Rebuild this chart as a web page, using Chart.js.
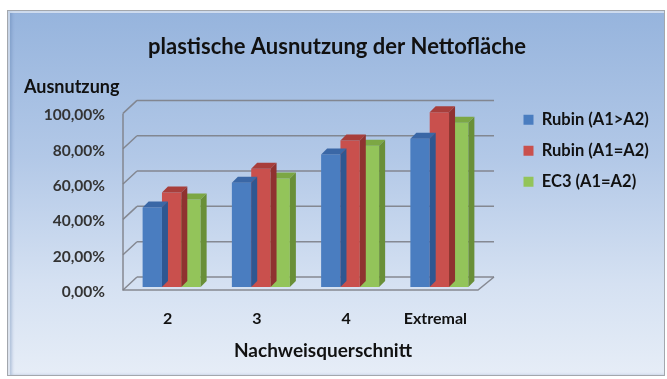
<!DOCTYPE html>
<html>
<head>
<meta charset="utf-8">
<script src="https://cdn.jsdelivr.net/npm/chart.js@4/dist/chart.umd.min.js"></script>
<style>
  html, body { margin: 0; padding: 0; background: #fff; }
  #frame {
    position: absolute; left: 7px; top: 10px; width: 656px; height: 364px;
    border: 1.5px solid #a3a7ad;
    background: linear-gradient(to bottom, #96b4dd 0%, #b2c8e7 40%, #d5e1f2 75%, #e6edf7 100%);
    box-shadow: inset 2px 2px 0 rgba(255,255,255,0.55), inset 4px 0 3px rgba(90,120,170,0.35);
  }
  #wrap { position: absolute; left: 0; top: 0; width: 667px; height: 379px; }
</style>
</head>
<body>
<div id="frame"></div>
<div id="wrap"><canvas id="chart" width="667" height="379"></canvas></div>
<script>
const categories = ['2', '3', '4', 'Extremal'];
const rubinA1gtA2 = [45, 59, 75, 84];
const rubinA1eqA2 = [53.5, 67, 83, 99];
const ec3A1eqA2 = [49.5, 61.5, 80, 93];
const seriesNames = ['Rubin (A1>A2)', 'Rubin (A1=A2)', 'EC3 (A1=A2)'];
const yTicks = [0, 20, 40, 60, 80, 100];

const FONT = 'Lato, "Open Sans", sans-serif';

// front / top / side shades for each series
const shades = [
  { front: '#4a7dc0', top: '#3a67a6', side: '#2f5791' },
  { front: '#c9504d', top: '#a83e3b', side: '#8f3230' },
  { front: '#93c45a', top: '#7ca744', side: '#698f38' }
];

const DEPTH = 6;                 // bar depth
const WALL = { dx: 14, dy: 11 }; // back wall shift
const SHIFT = -4;                // bars sit a bit right of the category centre in the original

const fmtPct = v => v.toFixed(2).replace('.', ',') + '%';

// back wall, side wall and floor behind the bars
const wallPlugin = {
  id: 'wall',
  beforeDatasetsDraw(chart) {
    const { ctx, chartArea: a, scales: { y } } = chart;
    const left = a.left + SHIFT, right = a.right + SHIFT;
    const y0 = y.getPixelForValue(0);
    ctx.save();
    ctx.strokeStyle = 'rgba(125,128,135,0.9)';
    ctx.lineWidth = 1.5;
    yTicks.forEach(v => {
      const yb = y.getPixelForValue(v) - WALL.dy + 1;
      ctx.beginPath();
      ctx.moveTo(left + WALL.dx, yb);
      ctx.lineTo(right + WALL.dx, yb);
      ctx.moveTo(left, yb + WALL.dy + 2);
      ctx.lineTo(left + WALL.dx, yb);
      ctx.stroke();
    });
    // front left edge of the side wall
    ctx.beginPath();
    ctx.moveTo(left, y.getPixelForValue(100) + 3);
    ctx.lineTo(left, y0 + 3);
    // floor front + right edge
    ctx.lineTo(right - 2, y0 + 3);
    ctx.lineTo(right + WALL.dx, y0 - WALL.dy + 1);
    ctx.stroke();
    ctx.restore();
  }
};

// top and side faces, drawn right after each dataset so the next one covers them
const bars3dPlugin = {
  id: 'bars3d',
  afterDatasetDraw(chart, args) {
    const { ctx } = chart;
    const c = shades[args.index];
    ctx.save();
    args.meta.data.forEach(el => {
      const { x, y, base, width } = el.getProps(['x', 'y', 'base', 'width'], true);
      const l = x - width / 2, r = x + width / 2;
      ctx.fillStyle = c.top;
      ctx.beginPath();
      ctx.moveTo(l, y);
      ctx.lineTo(l + DEPTH, y - DEPTH);
      ctx.lineTo(r + DEPTH, y - DEPTH);
      ctx.lineTo(r, y);
      ctx.closePath();
      ctx.fill();
      ctx.fillStyle = c.side;
      ctx.beginPath();
      ctx.moveTo(r, y);
      ctx.lineTo(r + DEPTH, y - DEPTH);
      ctx.lineTo(r + DEPTH, base - DEPTH);
      ctx.lineTo(r, base);
      ctx.closePath();
      ctx.fill();
    });
    ctx.restore();
  }
};

// axis titles drawn flat, legend and chart title nudged to where the original has them
const extrasPlugin = {
  id: 'extras',
  afterLayout(chart) {
    const lg = chart.legend;
    if (lg) {
      lg.left = 509;
      lg.top = 97;
      lg.right = 667;
      lg.bottom = 379;
    }
    const tb = chart.titleBlock;
    if (tb) {
      tb.left += 25;
      tb.right += 25;
    }
  },
  afterDraw(chart) {
    const { ctx } = chart;
    ctx.save();
    ctx.fillStyle = '#111';
    ctx.textBaseline = 'middle';
    ctx.font = 'bold 18px ' + FONT;
    ctx.fillText('Ausnutzung', 24, 87);
    ctx.font = 'bold 19px ' + FONT;
    ctx.textAlign = 'center';
    ctx.fillText('Nachweisquerschnitt', 323, 351);
    ctx.restore();
  }
};

const data = {
  labels: categories,
  datasets: [rubinA1gtA2, rubinA1eqA2, ec3A1eqA2].map((vals, i) => ({
    label: seriesNames[i],
    data: vals,
    backgroundColor: shades[i].front,
    borderWidth: 0,
    categoryPercentage: 0.65,
    barPercentage: 1.0
  }))
};

new Chart(document.getElementById('chart'), {
  type: 'bar',
  data: data,
  plugins: [wallPlugin, bars3dPlugin, extrasPlugin],
  options: {
    responsive: false,
    animation: false,
    layout: { padding: { top: 26, left: 40, right: 83, bottom: 28 } },
    scales: {
      x: {
        grid: { display: false, drawTicks: false },
        border: { display: false },
        ticks: {
          padding: 22.4,
          labelOffset: SHIFT,
          maxRotation: 0,
          minRotation: 0,
          autoSkip: false,
          color: '#111',
          font: { family: FONT, size: 16, weight: 'bold' }
        }
      },
      y: {
        min: 0,
        max: 100,
        afterFit(scale) { scale.width = 87; },
        grid: { display: false, drawTicks: false },
        border: { display: false },
        ticks: {
          stepSize: 20,
          padding: 22,
          labelOffset: 5,
          color: '#333',
          font: { family: FONT, size: 15.5, weight: 'bold' },
          callback: v => fmtPct(v)
        }
      }
    },
    plugins: {
      title: {
        display: true,
        text: 'plastische Ausnutzung der Nettofläche',
        color: '#111',
        font: { family: FONT, size: 22, weight: 'bold' },
        padding: { top: 8, bottom: 50 }
      },
      legend: {
        position: 'right',
        align: 'start',
        maxWidth: 100,
        labels: {
          boxWidth: 10,
          boxHeight: 10,
          padding: 14.5,
          color: '#111',
          font: { family: FONT, size: 16.5, weight: 'bold' }
        }
      },
      tooltip: { enabled: false }
    }
  }
});
</script>
</body>
</html>
